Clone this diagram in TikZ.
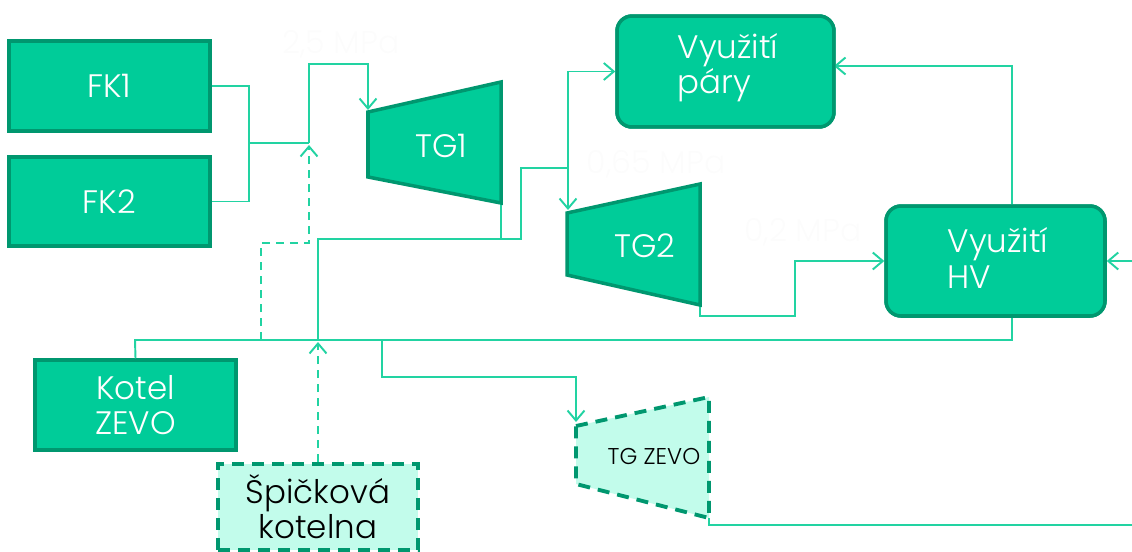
\documentclass[tikz,border=0pt]{standalone}
\usepackage{fontspec}
\setmainfont{Poppins}[UprightFont={* Light}]
\usetikzlibrary{arrows.meta}
\definecolor{fillg}{HTML}{00CC99}
\definecolor{edgeg}{HTML}{00976F}
\definecolor{lineg}{HTML}{22D3A2}
\definecolor{mint}{HTML}{C2FCEB}
\definecolor{faint}{HTML}{FCFCFC}
\begin{document}
\begin{tikzpicture}[x=0.02cm, y=-0.02cm,
  box/.style={draw=edgeg, fill=fillg, line width=2pt, text=white,
    font=\fontsize{18.5}{20}\selectfont, inner sep=0pt, align=center},
  rbox/.style={box, rounded corners=3mm, align=left},
  dbox/.style={draw=edgeg, fill=mint, line width=2.2pt, dash pattern=on 2.4mm off 1.6mm,
    text=black, font=\fontsize{18.5}{20}\selectfont, inner sep=0pt, align=center},
  trap/.style={draw=edgeg, fill=fillg, line width=2pt, line join=miter},
  dtrap/.style={draw=edgeg, fill=mint, line width=2.2pt, dash pattern=on 2.4mm off 1.6mm},
  conn/.style={draw=lineg, line width=1.1pt},
  arr/.style={conn, -{Straight Barb[length=2mm,width=3.4mm]}},
  dconn/.style={conn, dash pattern=on 1.6mm off 1.2mm},
  lbl/.style={text=white, font=\fontsize{18.5}{20}\selectfont},
  faintlbl/.style={text=faint, font=\fontsize{18}{20}\selectfont}
]
\useasboundingbox (0,0) rectangle (1132,551);

% coordinates
\coordinate (j1) at (249,143);
\coordinate (j2) at (309,143);
\coordinate (j2b) at (309,145);
\coordinate (k1) at (368,64);
\coordinate (tg1in) at (368,110);
\coordinate (tg1out) at (501,203);
\coordinate (j3) at (501,239);
\coordinate (j4) at (318,239);
\coordinate (j5) at (521,239);
\coordinate (j6) at (521,168);
\coordinate (j7) at (568,168);
\coordinate (tg2in) at (568,210);
\coordinate (tg2out) at (700,305);
\coordinate (k2) at (795,316);
\coordinate (hvtop) at (1012,206);
\coordinate (hvbot) at (1012,316);
\coordinate (parR) at (834,66);
\coordinate (ext) at (1132,261);
\coordinate (b0) at (135,340);
\coordinate (bd) at (261,340);
\coordinate (bspk) at (318,340);
\coordinate (bspkA) at (318,342);
\coordinate (bz) at (382,340);
\coordinate (k3) at (309,243);
\coordinate (k4) at (576,377);
\coordinate (tgzin) at (576,422);
\coordinate (tgzout) at (709,518);
\coordinate (extz) at (1132,525);

% nodes
\node[box, minimum width=4.02cm, minimum height=1.8cm] (fk1) at (109.5,86) {FK1};
\node[box, minimum width=4.02cm, minimum height=1.78cm] (fk2) at (109.5,201.5) {FK2};
\node[box, minimum width=4.02cm, minimum height=1.8cm] (kotel) at (135.5,405) {Kotel\\ZEVO};
\node[rbox, minimum width=4.34cm, minimum height=2.22cm] (pary) at (725.5,71.5) {};
\node[rbox, minimum width=4.38cm, minimum height=2.2cm] (hv) at (995.5,261) {};

% connectors
\draw[conn] (fk1.east) -| (j1) |- (fk2.east);
\draw[conn] (j1) -- (j2);
\draw[arr] (j2) |- (k1) -- (tg1in);
\draw[dconn, -{Straight Barb[length=2mm,width=3.4mm]}] (bd) |- (k3) -- (j2b);
\draw[conn] (tg1out) -- (j3);
\draw[conn] (bspk) -- (j4) -- (j5) -- (j6) -- (j7);
\draw[arr] (j7) |- (pary.west);
\draw[arr] (j7) -- (tg2in);
\draw[arr] (hvtop) |- (parR);
\draw[arr] (tg2out) |- (k2) |- (hv.west);
\draw[arr] (ext) -- (hv.east);
\draw[conn] (hvbot) |- (b0) -- (kotel.north);
\draw[arr] (bz) |- (k4) -- (tgzin);
\draw[conn] (tgzout) |- (extz);

% redraw rounded boxes on top
\node[rbox, minimum width=4.34cm, minimum height=2.22cm] at (pary) {};
\node[rbox, minimum width=4.38cm, minimum height=2.2cm] at (hv) {};
\node[lbl, align=left] (paryt) at (728,68) {Využití\\páry};
\node[lbl, align=left] (hvt) at (998,258) {Využití\\HV};

% turbines
\draw[trap] (368,112) -- (501,82) -- (501,203) -- (368,177) -- cycle;
\node[lbl] (tg1) at (441,146) {TG1};
\draw[trap] (567,213) -- (700,184) -- (700,305) -- (567,275) -- cycle;
\node[lbl] (tg2) at (645,246) {TG2};
\draw[dtrap] (576,426) -- (709,397) -- (709,518) -- (576,484) -- cycle;
\node[font=\fontsize{13}{14}\selectfont] (tgz) at (654,456) {TG ZEVO};

% peak boiler
\node[dbox, minimum width=4.0cm, minimum height=1.72cm] (spk) at (318,507) {Špičková\\kotelna};
\draw[dconn, -{Straight Barb[length=2mm,width=3.4mm]}] (spk.north) -- (bspkA);

% faint labels
\node[faintlbl] (p1) at (341,44) {2,5 MPa};
\node[faintlbl] (p2) at (656,164) {0,65 MPa};
\node[faintlbl] (p3) at (803,232) {0,2 MPa};
\end{tikzpicture}
\end{document}
